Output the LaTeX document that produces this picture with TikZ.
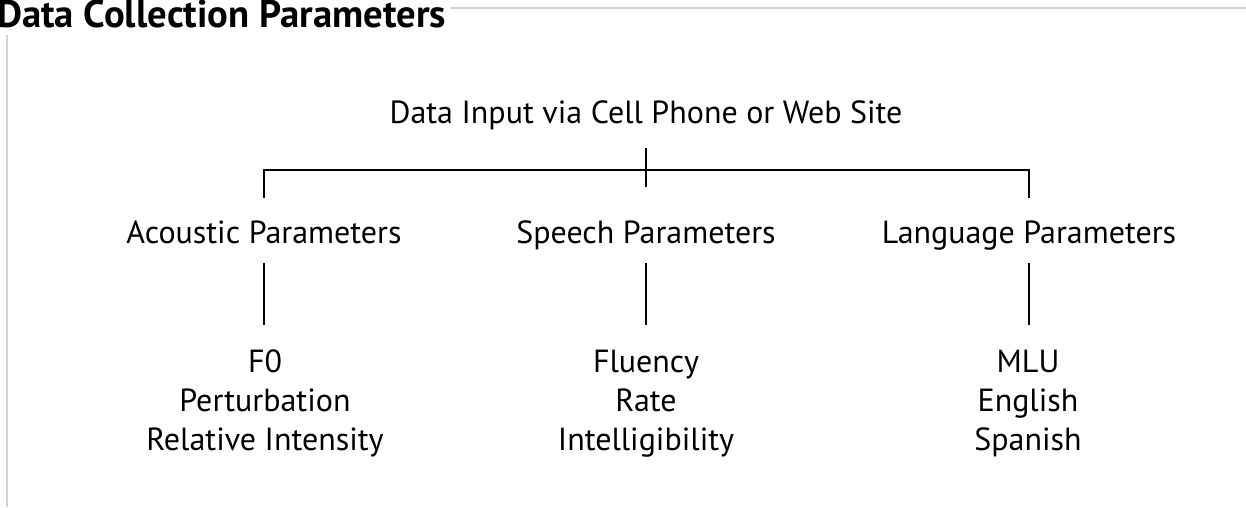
\documentclass[tikz,border=0pt]{standalone}
\usepackage{fontspec}
\setmainfont{PT Sans}
\usetikzlibrary{positioning, calc}
\usepackage{xcolor}
\definecolor{framegray}{HTML}{D2D2D2}

\begin{document}
\begin{tikzpicture}[
      x=0.75pt, y=-0.75pt,
      every node/.style={font=\fontsize{24}{29.25}\selectfont, inner sep=0pt},
      label/.style={anchor=base, align=center},
      heading/.style={anchor=base west, font=\fontsize{29}{32}\selectfont\bfseries},
      branch/.style={line width=1.8pt},
      rule/.style={line width=1.5pt, framegray},
    ]
    \useasboundingbox (0,0) rectangle (1246,507);

    % section heading with its frame rules
    \node[heading] (title) at (-3,27) {Data Collection Parameters};
    \draw[rule] ([xshift=4pt]title.east |- 0,8) -- (1246,8);
    \draw[rule] (7,35) -- (7,507);

    % root of the tree
    \node[label] (input) at (646,123) {Data Input via Cell Phone or Web Site};

    % parameter groups
    \node[label] (acoustic) at (264,243) {Acoustic Parameters};
    \node[label] (speech) at (646,243) {Speech Parameters};
    \node[label] (language) at (1029,243) {Language Parameters};

    % measures per group (base is the last line)
    \node[label] (acmeas) at (265,450) {F0\\Perturbation\\Relative Intensity};
    \node[label] (spmeas) at (646,450) {Fluency\\Rate\\Intelligibility};
    \node[label] (lgmeas) at (1028,450) {MLU\\English\\Spanish};

    % bracket from the root down to the groups
    \coordinate (bar) at (646,170);
    \draw[branch] (input.base |- 0,148) -- (input.base |- 0,187);
    \draw[branch] (acoustic.base |- 0,198) -- (acoustic.base |- bar)
      -- (language.base |- bar) -- (language.base |- 0,198);

    % stems from each group to its measures
    \draw[branch] (acoustic.base |- 0,263) -- (acoustic.base |- 0,325);
    \draw[branch] (speech.base |- 0,263) -- (speech.base |- 0,325);
    \draw[branch] (language.base |- 0,263) -- (language.base |- 0,325);
  \end{tikzpicture}
\end{document}
